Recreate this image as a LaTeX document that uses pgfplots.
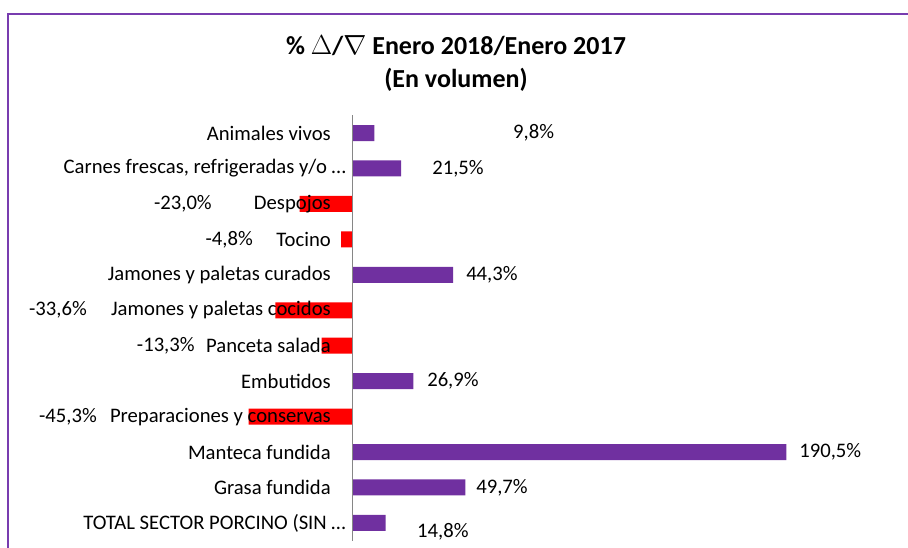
\documentclass[border=0pt]{standalone}
\usepackage{pgfplots}
\pgfplotsset{compat=1.18}
\usepackage{fontspec}
\setmainfont{Carlito}

\definecolor{barpurple}{RGB}{112,48,160}
\definecolor{barred}{RGB}{255,0,0}
\definecolor{zeroline}{RGB}{134,134,134}
\definecolor{framepurple}{RGB}{120,60,175}

\begin{document}
\begin{tikzpicture}[x=1pt,y=1pt]
\useasboundingbox (0,0) rectangle (681,411);
% chart frame (right and bottom edges fall outside the picture)
\draw[framepurple, line width=1.1pt] (6,0) -- (6,400.5) -- (681,400.5);
\node[font=\bfseries\fontsize{19.5}{24.75}\selectfont, align=center] at (342,363.4)
  {\% $\Delta$/$\nabla$ Enero 2018/Enero 2017\\(En volumen)};

\begin{axis}[
    at={(7.5pt,5.5pt)}, anchor=south west,
    scale only axis, width=598.5pt, height=319pt,
    xmin=-150, xmax=200, ymin=-0.5, ymax=11.5,
    y dir=reverse, hide axis, clip=false,
  ]
  % bars
  \addplot[xbar, bar width=12pt, bar shift=0pt, fill=barpurple, draw=none]
    coordinates {(9.8,0) (21.5,1) (44.3,4) (26.9,7) (190.5,9) (49.7,10) (14.8,11)};
  \addplot[xbar, bar width=12pt, bar shift=0pt, fill=barred, draw=none]
    coordinates {(-23.0,2) (-4.8,3) (-33.6,5) (-13.3,6) (-45.3,8)};
  \draw[zeroline, line width=0.75pt] (axis cs:0,-0.5) -- (axis cs:0,11.5);

  % category names
  \addplot[draw=none, mark=none, nodes near coords, point meta=explicit symbolic,
    every node near coord/.append style={anchor=east, inner sep=0pt, font=\fontsize{15.5}{18}\selectfont}]
    coordinates {
      (-9.2,0) [{Animales vivos}]
      (-2.6,1) [{Carnes frescas, refrigeradas y/o …}]
      (-9.2,2) [{Despojos}]
      (-9.2,3) [{Tocino}]
      (-9.2,4) [{Jamones y paletas curados}]
      (-9.2,5) [{Jamones y paletas cocidos}]
      (-9.2,6) [{Panceta salada}]
      (-9.2,7) [{Embutidos}]
      (-9.2,8) [{Preparaciones y conservas}]
      (-9.2,9) [{Manteca fundida}]
      (-9.2,10) [{Grasa fundida}]
      (-2.6,11) [{TOTAL SECTOR PORCINO (SIN …}]
    };

  % value labels, positive
  \addplot[draw=none, mark=none, nodes near coords, point meta=explicit symbolic,
    every node near coord/.append style={anchor=west, inner sep=0pt, font=\fontsize{15.5}{18}\selectfont}]
    coordinates {
      (70.6,0) [{9,8\%}]
      (35.1,1) [{21,5\%}]
      (50.0,4) [{44,3\%}]
      (32.9,7) [{26,9\%}]
      (196.1,9) [{190,5\%}]
      (54.4,10) [{49,7\%}]
      (28.5,11.25) [{14,8\%}]
    };

  % value labels, negative
  \addplot[draw=none, mark=none, nodes near coords, point meta=explicit symbolic,
    every node near coord/.append style={anchor=east, inner sep=0pt, font=\fontsize{15.5}{18}\selectfont}]
    coordinates {
      (-61.4,2) [{-23,0\%}]
      (-43.4,3) [{-4,8\%}]
      (-116.2,5) [{-33,6\%}]
      (-68.9,6) [{-13,3\%}]
      (-111.8,8) [{-45,3\%}]
    };
\end{axis}
\end{tikzpicture}
\end{document}
